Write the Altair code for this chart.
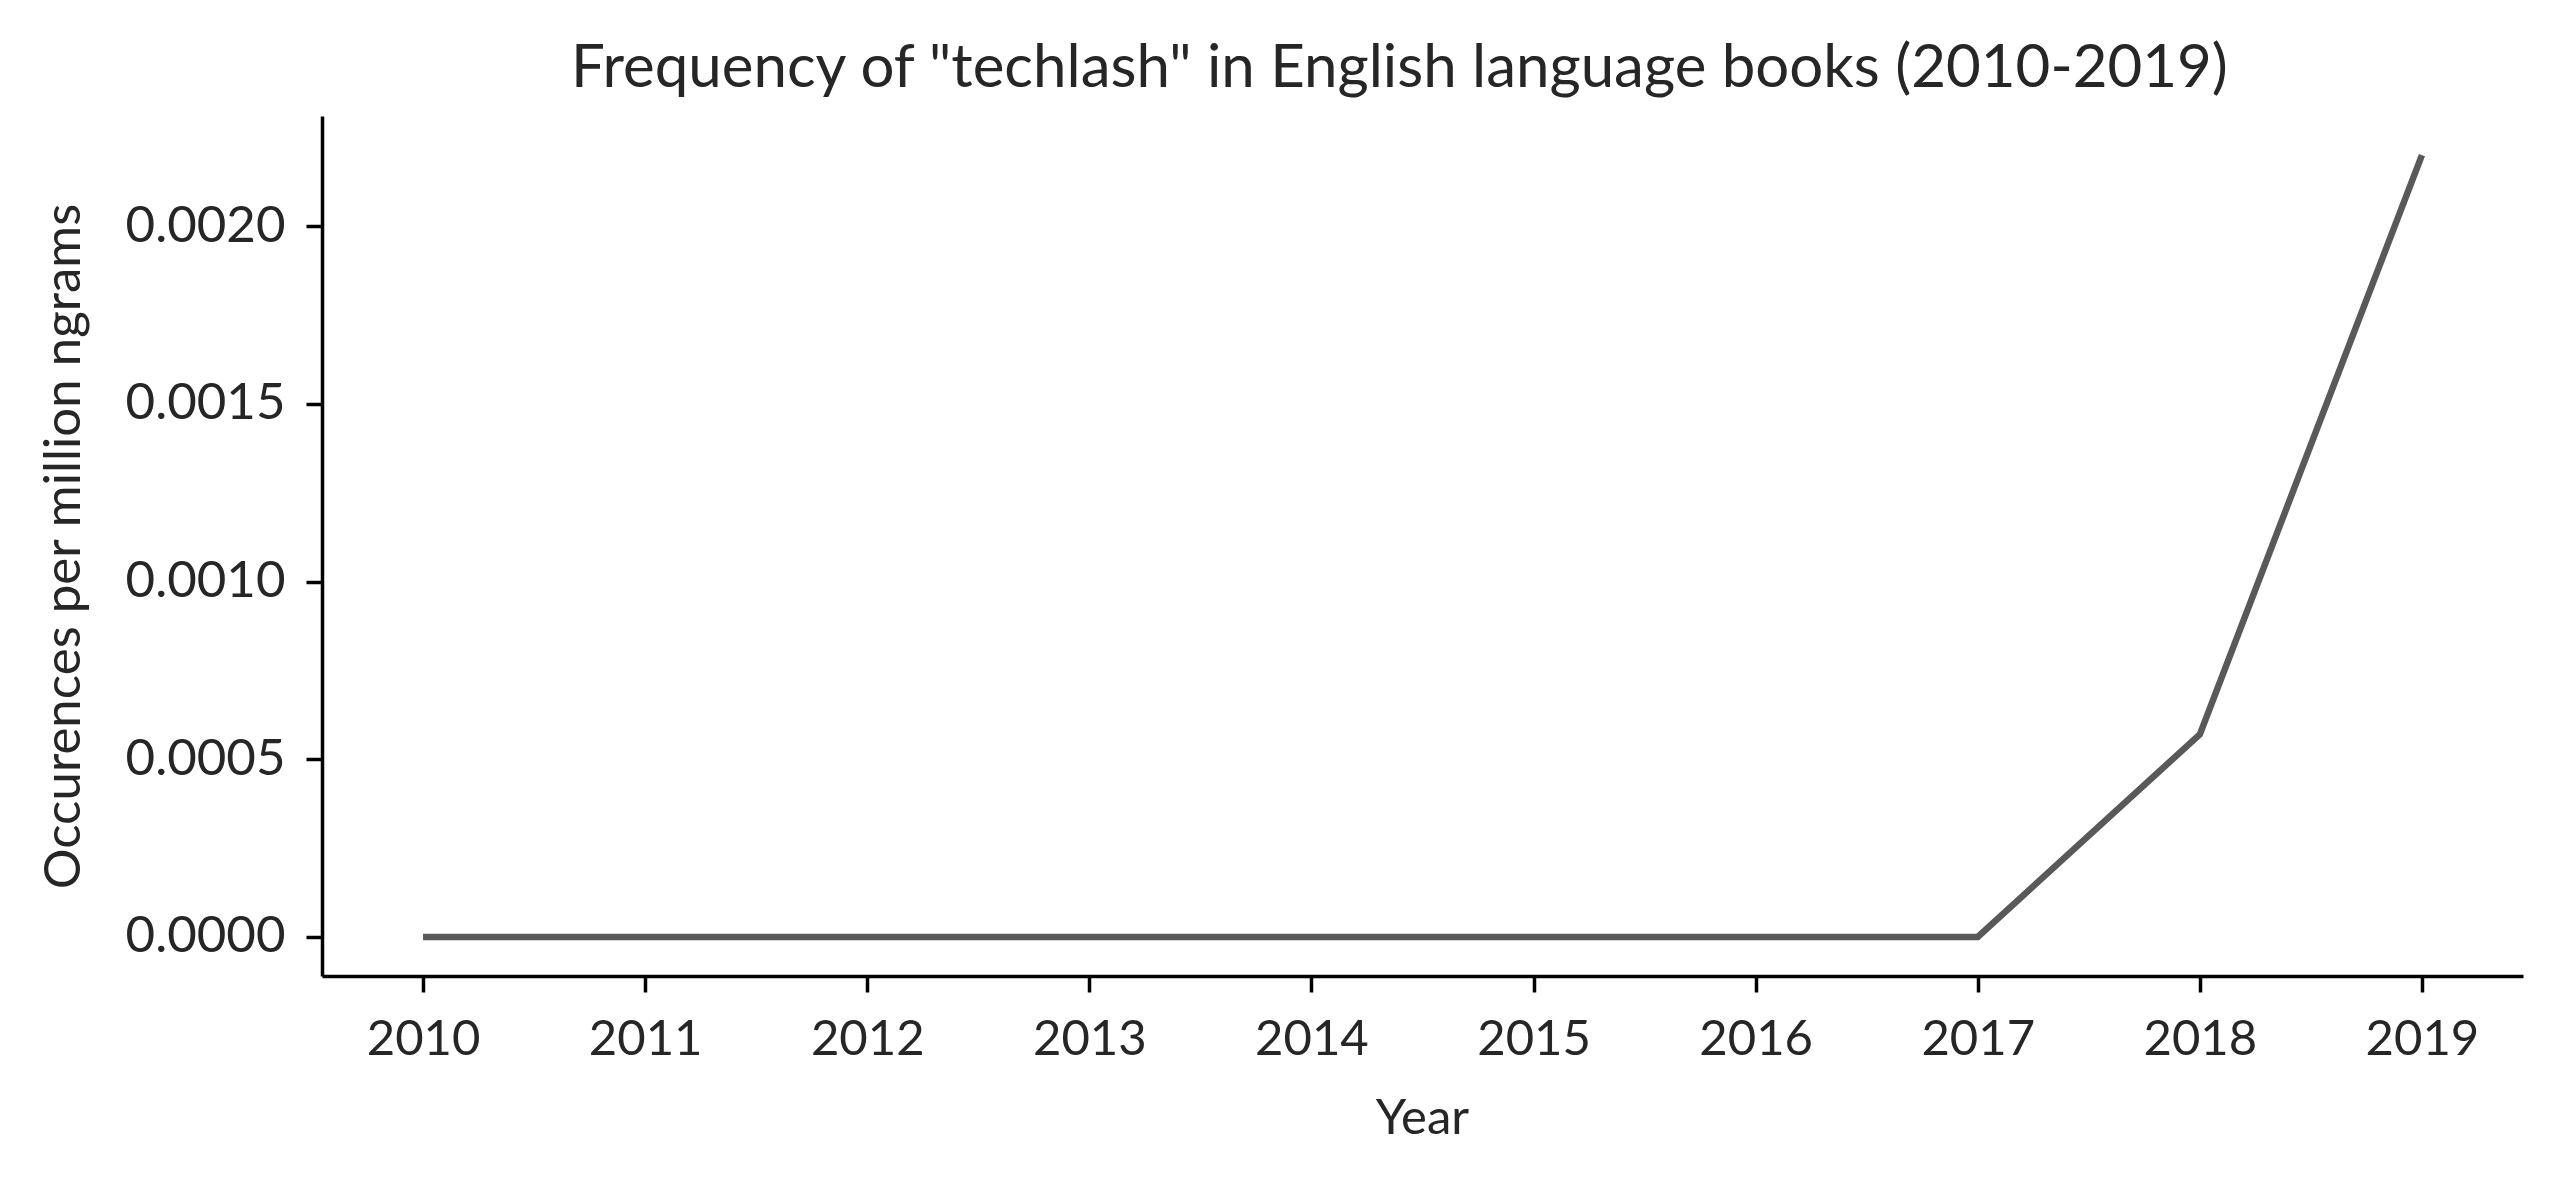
import altair as alt
import pandas as pd

years = [2010, 2011, 2012, 2013, 2014, 2015, 2016, 2017, 2018, 2019]
frequency = [0.0, 0.0, 0.0, 0.0, 0.0, 0.0, 0.0, 0.0, 0.00057, 0.0022]
y_ticks = [0.0, 0.0005, 0.0010, 0.0015, 0.0020]

df = pd.DataFrame({"Year": years, "Frequency": frequency})

FONT = "Lato"
TXT = "#262626"

chart = alt.Chart(df).mark_line(
    color="#595959", strokeWidth=6.5, strokeCap="butt", strokeJoin="miter"
).encode(
    x=alt.X(
        "Year:Q",
        scale=alt.Scale(domain=[2009.545, 2019.455], nice=False, zero=False),
        axis=alt.Axis(
            values=years, format="d", title="Year",
            grid=False, domainColor="black", domainWidth=3.5,
            tickColor="black", tickWidth=3.5, tickSize=16,
            labelFont=FONT, labelFontSize=49, labelColor=TXT,
            labelBaseline="alphabetic", labelPadding=62,
            titleFont=FONT, titleFontSize=49, titleFontWeight="normal", titleColor=TXT,
            titleX=1100, titleY=157, titleBaseline="alphabetic", titleAlign="center",
        ),
    ),
    y=alt.Y(
        "Frequency:Q",
        scale=alt.Scale(domain=[-0.00011, 0.00231], nice=False, zero=False),
        axis=alt.Axis(
            values=y_ticks, format=".4f", title="Occurences per million ngrams",
            grid=False, domainColor="black", domainWidth=3.5,
            tickColor="black", tickWidth=3.5, tickSize=16,
            labelFont=FONT, labelFontSize=51, labelColor=TXT,
            labelPadding=21, labelBaseline="middle",
            titleFont=FONT, titleFontSize=51, titleFontWeight="normal", titleColor=TXT,
            titleX=-243, titleY=430, titleAngle=-90, titleBaseline="alphabetic",
            titleAlign="center",
        ),
    ),
).properties(
    width=2201,
    height=860,
    padding={"left": 314, "top": 108, "right": 29, "bottom": 194},
    autosize=alt.AutoSizeParams(type="none"),
    title=alt.TitleParams(
        'Frequency of "techlash" in English language books (2010-2019)',
        font=FONT, fontSize=60, fontWeight="normal", color=TXT,
        anchor="middle", baseline="alphabetic", offset=18, dx=-23, dy=49,
    ),
).configure_view(stroke=None)

chart.save("out.html", embed_options={"renderer": "svg", "actions": False})
